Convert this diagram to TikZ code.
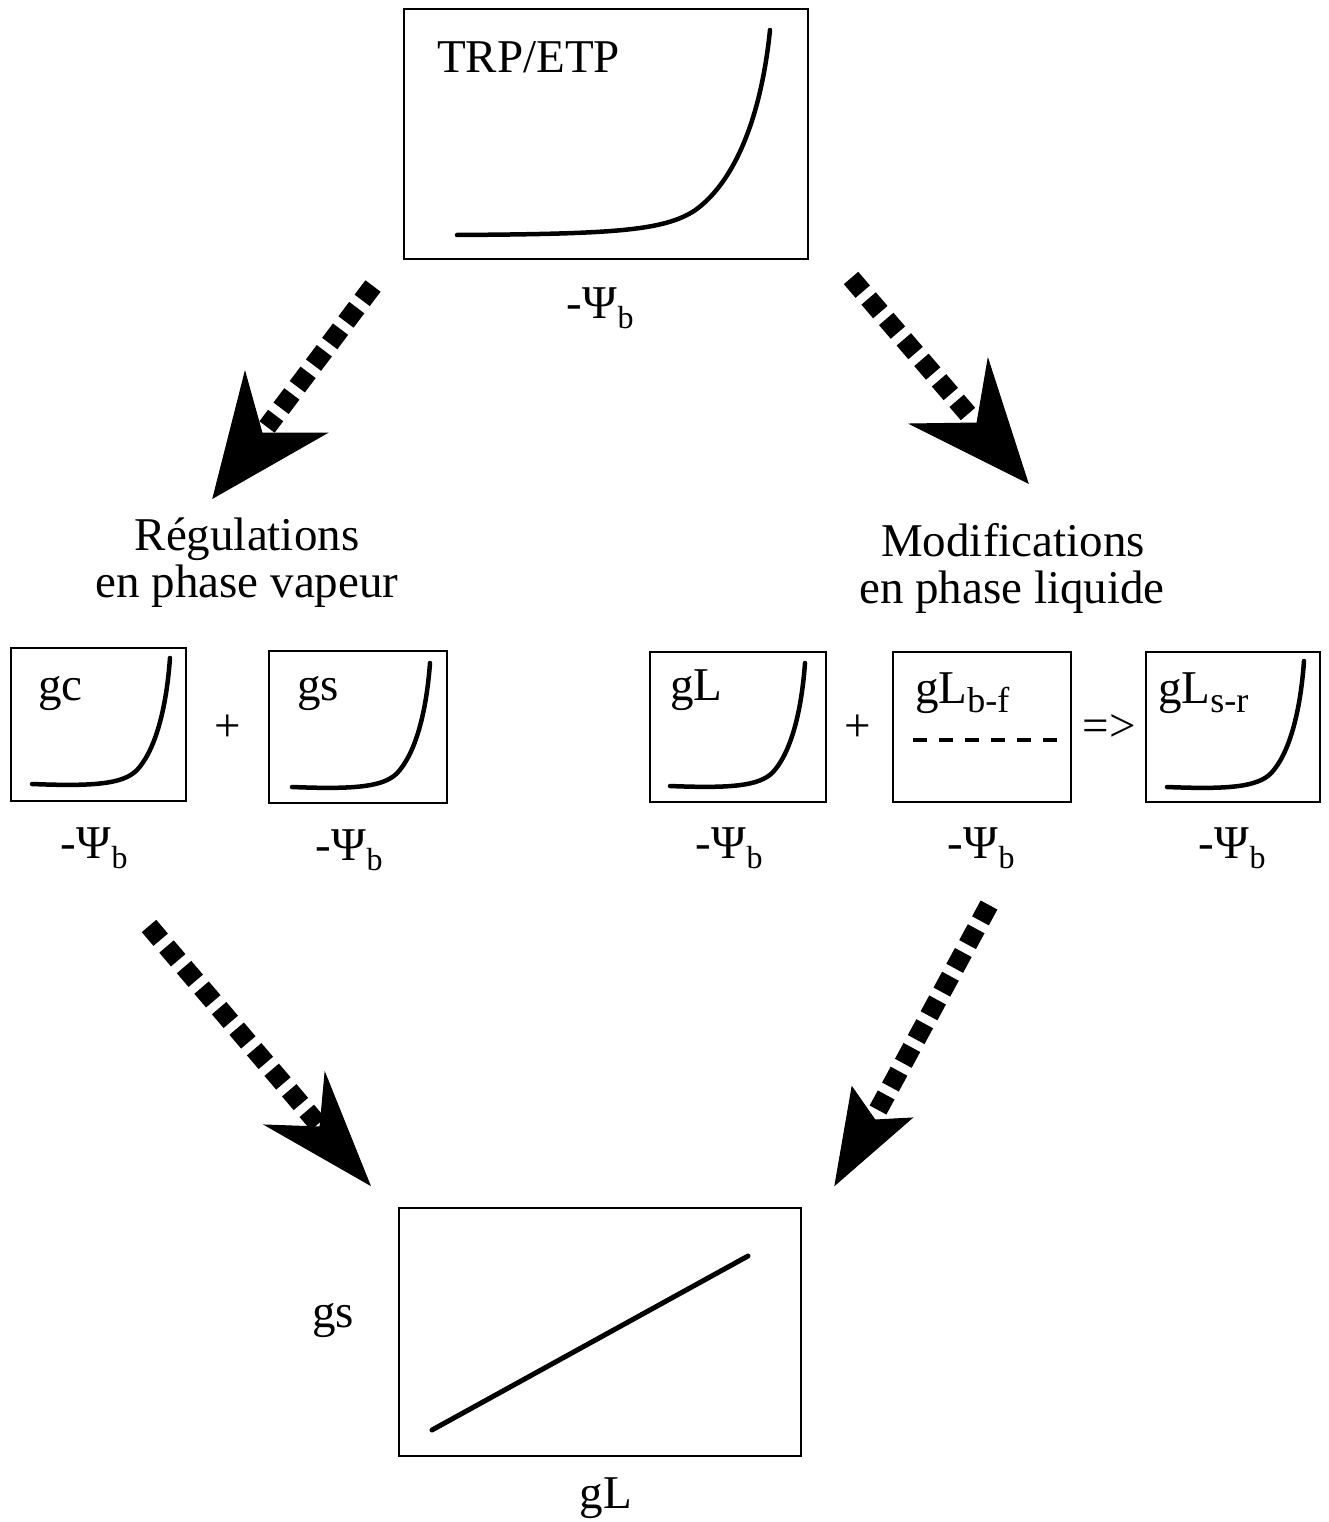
\documentclass[tikz,border=0pt]{standalone}
\usepackage{fontspec}
\setmainfont{Liberation Serif}
\tikzset{
  plotbox/.style={draw, line width=1.8pt, inner sep=0pt, anchor=north west},
  lbl/.style={inner sep=0pt, font=\fontsize{47}{56}\selectfont},
  crv/.style={line width=4.5pt, line cap=round},
  shaft/.style={line width=19pt, dash pattern=on 18pt off 9pt},
  head/.style={fill=black, draw=black, line width=1pt, line join=miter},
  flatdash/.style={line width=4pt, dash pattern=on 14pt off 12pt},
}
\newcommand\psib{-\kern1pt Ψ\raisebox{-10pt}{\fontsize{32}{32}\selectfont b}}
\newcommand\subs[1]{\raisebox{-9pt}{\fontsize{36}{36}\selectfont #1}}
\begin{document}
\begin{tikzpicture}[x=1pt, y=-1pt]
\fill[white] (0,0) rectangle (1328,1522);
\useasboundingbox (0,0) rectangle (1328,1522);

% ---------- top box ----------
\node[plotbox, minimum width=404pt, minimum height=250pt] (topbox) at (403,8) {};
\node[lbl, anchor=base west] (trp) at (437,73) {TRP/ETP};
\draw[crv, shift={(457,235)}, xscale=313, yscale=-205]
  (0,0) .. controls (0.5,0.005) and (0.66,0.02) .. (0.76,0.12)
  .. controls (0.88,0.25) and (0.97,0.55) .. (1,1);
\node[lbl, anchor=base] (psitop) at (600,318) {\psib};

% ---------- top arrows ----------
\coordinate (l1s) at (373,286); \coordinate (l1e) at (267,427);
\draw[shaft] (l1s) -- (l1e);
\coordinate (l1t) at (213,498); \coordinate (l1a) at (245,372);
\coordinate (l1n) at (262,433); \coordinate (l1b) at (327,433);
\fill[head] (l1t) -- (l1a) -- (l1n) -- (l1b) -- cycle;

\coordinate (r1s) at (851,278); \coordinate (r1e) at (968,414);
\draw[shaft] (r1s) -- (r1e);
\coordinate (r1t) at (1028,483); \coordinate (r1a) at (988,359);
\coordinate (r1n) at (977,423); \coordinate (r1b) at (910,424);
\fill[head] (r1t) -- (r1a) -- (r1n) -- (r1b) -- cycle;

% ---------- headings ----------
\node[lbl, anchor=base] (reg1) at (247,550) {Régulations};
\node[lbl, anchor=base] (reg2) at (247,597) {en phase vapeur};
\node[lbl, anchor=base] (mod1) at (1013,556) {Modifications};
\node[lbl, anchor=base] (mod2) at (1012,603) {en phase liquide};

% ---------- left small boxes ----------
\node[plotbox, minimum width=175pt, minimum height=153pt] (gcbox) at (10,647) {};
\node[lbl, anchor=base west] (gclbl) at (38,700) {gc};
\draw[crv, shift={(32,784)}, xscale=138, yscale=-126]
  (0,0) .. controls (0.45,-0.02) and (0.66,0.0) .. (0.76,0.11)
  .. controls (0.88,0.25) and (0.97,0.55) .. (1,1);
\node[lbl, anchor=base] (psigc) at (94,858) {\psib};

\node[lbl] (plus1) at (228,728) {+};

\node[plotbox, minimum width=178pt, minimum height=152pt] (gsbox) at (268,650) {};
\node[lbl, anchor=base west] (gslbl) at (297,700) {gs};
\draw[crv, shift={(292,787)}, xscale=138, yscale=-124]
  (0,0) .. controls (0.45,-0.02) and (0.66,0.0) .. (0.76,0.11)
  .. controls (0.88,0.25) and (0.97,0.55) .. (1,1);
\node[lbl, anchor=base] (psigs) at (349,860) {\psib};

% ---------- right small boxes ----------
\node[plotbox, minimum width=176pt, minimum height=150pt] (gLbox) at (649,651) {};
\node[lbl, anchor=base west] (gLlbl) at (670,700) {gL};
\draw[crv, shift={(670,786)}, xscale=135, yscale=-123]
  (0,0) .. controls (0.45,-0.02) and (0.66,0.0) .. (0.76,0.11)
  .. controls (0.88,0.25) and (0.97,0.55) .. (1,1);
\node[lbl, anchor=base] (psigL) at (729,858) {\psib};

\node[lbl] (plus2) at (858,728) {+};

\node[plotbox, minimum width=178pt, minimum height=150pt] (gLbfbox) at (892,651) {};
\node[lbl, anchor=base west] (gLbflbl) at (915,703) {gL\subs{b-f}};
\coordinate (dfl) at (913,740); \coordinate (dfr) at (1057,740);
\draw[flatdash] (dfl) -- (dfr);
\node[lbl, anchor=base] (psigLbf) at (981,858) {\psib};

\node[lbl] (implies) at (1109,728) {=>};

\node[plotbox, minimum width=174pt, minimum height=150pt] (gLsrbox) at (1145,651) {};
\node[lbl, anchor=base west] (gLsrlbl) at (1158,703) {gL\subs{s-r}};
\draw[crv, shift={(1167,787)}, xscale=137, yscale=-126]
  (0,0) .. controls (0.45,-0.02) and (0.66,0.0) .. (0.76,0.11)
  .. controls (0.88,0.25) and (0.97,0.55) .. (1,1);
\node[lbl, anchor=base] (psigLsr) at (1232,858) {\psib};

% ---------- bottom arrows ----------
\coordinate (l2s) at (149,926); \coordinate (l2e) at (318,1124);
\draw[shaft] (l2s) -- (l2e);
\coordinate (l2t) at (370,1185); \coordinate (l2a) at (325,1073);
\coordinate (l2n) at (320,1127); \coordinate (l2b) at (265,1125);
\fill[head] (l2t) -- (l2a) -- (l2n) -- (l2b) -- cycle;

\coordinate (r2s) at (989,905); \coordinate (r2e) at (878,1110);
\draw[shaft] (r2s) -- (r2e);
\coordinate (r2t) at (835,1185); \coordinate (r2a) at (852,1087);
\coordinate (r2n) at (875,1120); \coordinate (r2b) at (912,1118);
\fill[head] (r2t) -- (r2a) -- (r2n) -- (r2b) -- cycle;

% ---------- bottom box ----------
\node[plotbox, minimum width=402pt, minimum height=248pt] (botbox) at (398,1207) {};
\coordinate (lnA) at (432,1430); \coordinate (lnB) at (748,1256);
\draw[line width=5pt, line cap=round] (lnA) -- (lnB);
\node[lbl, anchor=base west] (gsaxis) at (312,1327) {gs};
\node[lbl, anchor=base] (gLaxis) at (606,1508) {gL};
\end{tikzpicture}
\end{document}
